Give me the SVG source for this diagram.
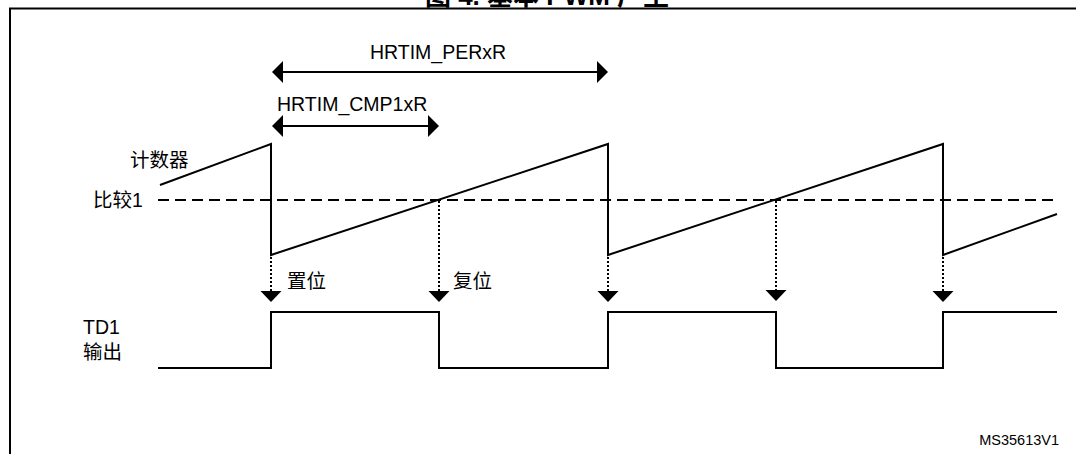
<svg xmlns="http://www.w3.org/2000/svg" width="1076" height="454" viewBox="0 0 1076 454">
<style>
.t{font-family:"Liberation Sans","Noto Sans CJK SC",sans-serif;font-size:19.5px;fill:#000}
.s{fill:none;stroke:#000;stroke-width:2}
.d{fill:none;stroke:#000;stroke-width:2;stroke-dasharray:11,6}
.o{fill:none;stroke:#000;stroke-width:2;stroke-dasharray:2,2}
.a{fill:#000;stroke:none}
</style>
<rect width="1076" height="454" fill="#fff"/>
<text x="547" y="5" text-anchor="middle" style="font-family:'Liberation Sans','Noto Sans CJK SC',sans-serif;font-size:26px;font-weight:bold">图 4. 基本 PWM 产生</text>
<g id="frame"><path class="s" d="M10,454 V8.5 H1076"/></g>
<g id="labels">
<text class="t" x="130" y="167">计数器</text>
<text class="t" x="93" y="207">比较1</text>
<text class="t" x="287" y="288">置位</text>
<text class="t" x="453" y="288">复位</text>
<text class="t" x="83" y="334">TD1</text>
<text class="t" x="83" y="359">输出</text>
<text class="t" x="438" y="59" text-anchor="middle">HRTIM_PERxR</text>
<text class="t" x="277" y="111">HRTIM_CMP1xR</text>
<text x="1059" y="445" text-anchor="end" style="font-family:'Liberation Sans',sans-serif;font-size:14.5px">MS35613V1</text>
</g>
<g id="compare"><path class="d" d="M158,200 H1057"/></g>
<g id="counter"><path class="s" d="M160,185 L271,144 V255 L608,144 V255 L943,144 V255 L1057,214"/></g>
<g id="output"><path class="s" d="M158,368 H271 V312 H439 V368 H608 V312 H776 V368 H943 V312 H1057"/></g>
<g id="connectors">
<path class="s" d="M280,72 H600"/>
<polygon class="a" points="272,72 283,61 283,83"/>
<polygon class="a" points="608,72 597,61 597,83"/>
<path class="s" d="M280,126 H431"/>
<polygon class="a" points="272,126 283,115 283,137"/>
<polygon class="a" points="439,126 428,115 428,137"/>
<path class="o" d="M271,257 V292 M439,201 V292 M608,257 V292 M776,201 V292 M943,257 V292"/>
<polygon class="a" points="260.5,291 281.5,291 271,302"/>
<polygon class="a" points="428.5,291 449.5,291 439,302"/>
<polygon class="a" points="597.5,291 618.5,291 608,302"/>
<polygon class="a" points="765.5,290 786.5,290 776,301"/>
<polygon class="a" points="932.5,291 953.5,291 943,302"/>
</g>
</svg>
